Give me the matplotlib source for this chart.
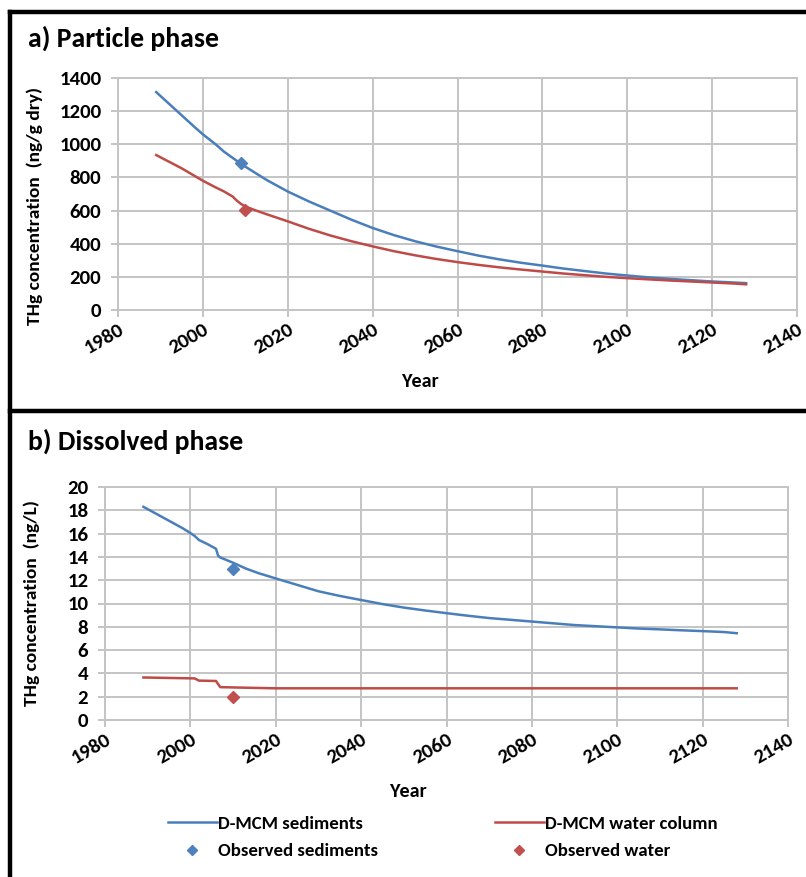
import matplotlib
matplotlib.use("Agg")
import matplotlib.pyplot as plt
from matplotlib.lines import Line2D

plt.rcParams['font.family'] = ['Carlito', 'DejaVu Sans']
plt.rcParams['font.weight'] = 'bold'

# particle phase (ng/g dry)
part_years = [1989, 1992, 1995, 1998, 2000, 2003, 2005, 2008, 2010, 2015, 2020, 2025,
              2030, 2035, 2040, 2045, 2050, 2055, 2060, 2065, 2070, 2075, 2080, 2085,
              2090, 2095, 2100, 2105, 2110, 2115, 2120, 2125, 2128]
part_sed = [1315, 1245, 1175, 1105, 1060, 1000, 955, 900, 865, 785, 715, 655,
            600, 545, 495, 452, 415, 383, 355, 328, 305, 285, 268, 250,
            235, 220, 208, 197, 188, 180, 172, 166, 162]
part_wat_years = [1989, 1992, 1995, 1998, 2000, 2003, 2005, 2007, 2008, 2009, 2010, 2012,
                  2015, 2020, 2025, 2030, 2035, 2040, 2045, 2050, 2055, 2060, 2065, 2070,
                  2075, 2080, 2085, 2090, 2095, 2100, 2105, 2110, 2115, 2120, 2125, 2128]
part_wat = [935, 895, 855, 810, 780, 740, 715, 685, 660, 640, 625, 605,
            578, 535, 490, 450, 415, 384, 355, 330, 308, 289, 272, 257,
            244, 232, 220, 210, 200, 192, 185, 178, 172, 166, 160, 155]
part_obs_sed = (2009, 890)
part_obs_wat = (2010, 606)

# dissolved phase (ng/L)
diss_years = [1989, 1992, 1995, 1998, 2000, 2001, 2002, 2004, 2006, 2006.5, 2007, 2010,
              2013, 2016, 2020, 2025, 2030, 2035, 2040, 2045, 2050, 2055, 2060, 2065,
              2070, 2075, 2080, 2085, 2090, 2095, 2100, 2105, 2110, 2115, 2120, 2125, 2128]
diss_sed = [18.3, 17.7, 17.1, 16.5, 16.05, 15.8, 15.45, 15.1, 14.7, 14.1, 13.95, 13.5,
            13.0, 12.6, 12.15, 11.6, 11.05, 10.65, 10.3, 9.95, 9.65, 9.4, 9.17, 8.95,
            8.75, 8.6, 8.45, 8.3, 8.15, 8.05, 7.95, 7.85, 7.78, 7.7, 7.63, 7.55, 7.45]
diss_wat_years = [1989, 2001, 2002, 2006, 2007, 2012, 2020, 2128]
diss_wat = [3.65, 3.57, 3.38, 3.35, 2.82, 2.78, 2.72, 2.72]
diss_obs_sed = (2010, 13.0)
diss_obs_wat = (2010, 2.0)

BLUE = '#4A7EBB'
RED = '#BE4B48'
GRID = '#C4C4C4'

W, H = 806, 877
fig = plt.figure(figsize=(W / 100, H / 100), dpi=100)


def px(x0, y0, x1, y1):
    """pixel box -> figure rect"""
    return [x0 / W, 1 - y1 / H, (x1 - x0) / W, (y1 - y0) / H]


def style_ax(ax, ymax, ystep, ylabel):
    ax.set_xlim(1980, 2140)
    ax.set_ylim(0, ymax)
    ax.set_xticks(range(1980, 2141, 20))
    ax.set_yticks(range(0, ymax + 1, ystep))
    ax.grid(True, color=GRID, linewidth=1.4)
    ax.set_axisbelow(True)
    for s in ax.spines.values():
        s.set_color(GRID)
        s.set_linewidth(1.4)
    ax.tick_params(colors=GRID, length=5, width=1.4, labelcolor='black', labelsize=15)
    ax.tick_params(axis='x', pad=3)
    ax.tick_params(axis='y', pad=7)
    for lab in ax.get_xticklabels():
        lab.set_rotation(30)
        lab.set_ha('right')
        lab.set_rotation_mode('anchor')
        lab.set_fontweight('bold')
    for lab in ax.get_yticklabels():
        lab.set_fontweight('bold')
    ax.set_xlabel('Year', fontsize=14.5, fontweight='bold')
    ax.set_ylabel(ylabel, fontsize=14, fontweight='bold')


ax1 = fig.add_axes(px(118, 78, 797, 310))
ax1.plot(part_years, part_sed, color=BLUE, lw=1.8, label='D-MCM sediments')
ax1.plot(part_wat_years, part_wat, color=RED, lw=1.8, label='D-MCM water column')
ax1.plot(*part_obs_sed, 'D', color='#4F81BD', ms=6.5)
ax1.plot(*part_obs_wat, 'D', color='#C0504D', ms=6.5)
style_ax(ax1, 1400, 200, 'THg concentration  (ng/g dry)')
ax1.xaxis.set_label_coords(0.445, -0.27)
ax1.yaxis.set_label_coords(-0.11, 0.45)

ax2 = fig.add_axes(px(105, 487, 788, 720))
l1, = ax2.plot(diss_years, diss_sed, color=BLUE, lw=1.8)
l2, = ax2.plot(diss_wat_years, diss_wat, color=RED, lw=1.8)
m1, = ax2.plot(*diss_obs_sed, 'D', color='#4F81BD', ms=6.5, ls='none')
m2, = ax2.plot(*diss_obs_wat, 'D', color='#C0504D', ms=6.5, ls='none')
style_ax(ax2, 20, 2, 'THg concentration  (ng/L)')
ax2.xaxis.set_label_coords(0.444, -0.27)
ax2.yaxis.set_label_coords(-0.095, 0.5)

fig.legend([l1, m1, l2, m2],
           ['D-MCM sediments', 'Observed sediments', 'D-MCM water column', 'Observed water'],
           ncol=2, loc='upper left', bbox_to_anchor=(151 / W, 1 - 799 / H),
           frameon=False, fontsize=13.5, handlelength=2.6, handletextpad=0.1,
           columnspacing=6.2, labelspacing=0.6, markerscale=0.8)

fig.text(28 / W, 1 - 38 / H, 'a) Particle phase', fontsize=20, fontweight='bold', va='center')
fig.text(28 / W, 1 - 441 / H, 'b) Dissolved phase', fontsize=20, fontweight='bold', va='center')

# panel frames
for xs, ys in [([10, 10], [12, H]), ([10, W], [12, 12]), ([10, W], [411, 411])]:
    fig.add_artist(Line2D([x / W for x in xs], [1 - y / H for y in ys],
                          color='black', lw=3.2, transform=fig.transFigure))

fig.savefig('out.png', dpi=100)
